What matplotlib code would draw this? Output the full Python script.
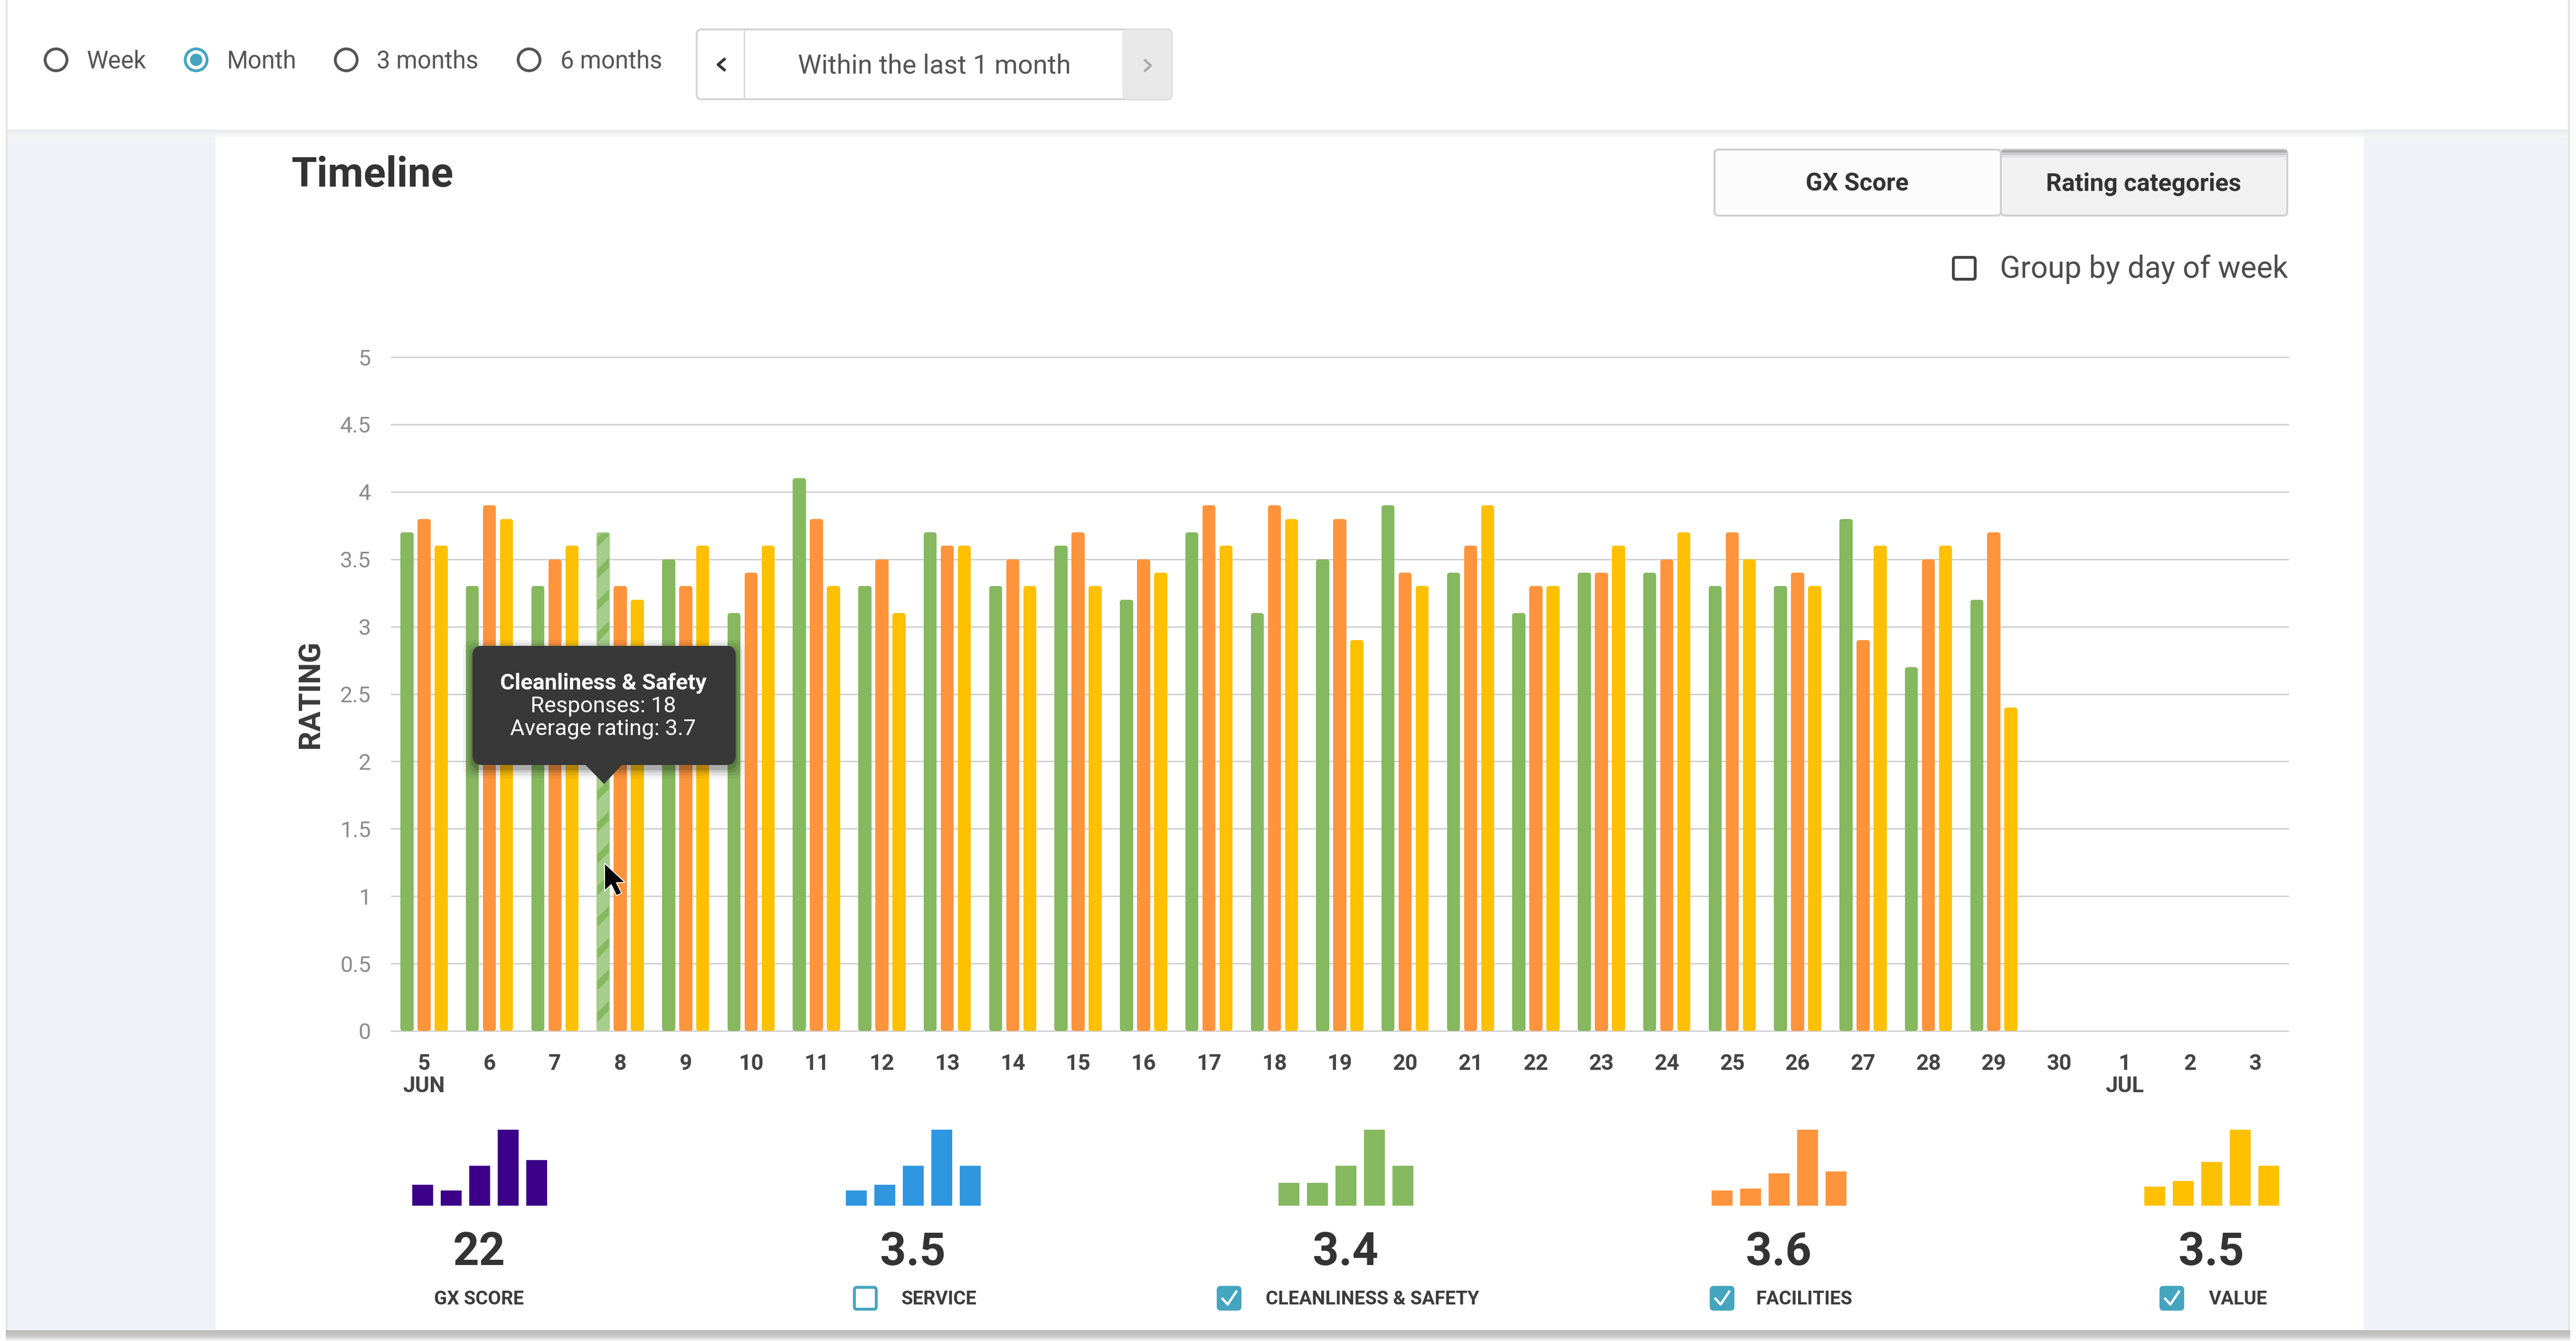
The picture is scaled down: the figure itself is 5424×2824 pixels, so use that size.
import numpy as np
import matplotlib
matplotlib.use('Agg')
import matplotlib.pyplot as plt
from matplotlib.patches import Rectangle, FancyBboxPatch, Circle, Polygon

plt.rcParams['font.family'] = ['Roboto', 'DejaVu Sans']

W, H = 5424, 2824
DPI = 200
PT = 72 / DPI   # one picture pixel in points

# chart data
days = ['5\nJUN', '6', '7', '8', '9', '10', '11', '12', '13', '14', '15', '16', '17', '18', '19',
        '20', '21', '22', '23', '24', '25', '26', '27', '28', '29', '30', '1\nJUL', '2', '3']
cleanliness = [3.7, 3.3, 3.3, 3.7, 3.5, 3.1, 4.1, 3.3, 3.7, 3.3, 3.6, 3.2, 3.7, 3.1, 3.5,
               3.9, 3.4, 3.1, 3.4, 3.4, 3.3, 3.3, 3.8, 2.7, 3.2]
facilities = [3.8, 3.9, 3.5, 3.3, 3.3, 3.4, 3.8, 3.5, 3.6, 3.5, 3.7, 3.5, 3.9, 3.9, 3.8,
              3.4, 3.6, 3.3, 3.4, 3.5, 3.7, 3.4, 2.9, 3.5, 3.7]
value = [3.6, 3.8, 3.6, 3.2, 3.6, 3.6, 3.3, 3.1, 3.6, 3.3, 3.3, 3.4, 3.6, 3.8, 2.9,
         3.3, 3.9, 3.3, 3.6, 3.7, 3.5, 3.3, 3.6, 3.6, 2.4]
y_ticks = [0, 0.5, 1, 1.5, 2, 2.5, 3, 3.5, 4, 4.5, 5]
y_labels = ['0', '0.5', '1', '1.5', '2', '2.5', '3', '3.5', '4', '4.5', '5']

# small summary histograms
hist_gx = [11, 8, 21, 40, 24]
hist_service = [8, 11, 21, 40, 21]
hist_clean = [12, 12, 21, 40, 21]
hist_fac = [8, 9, 17, 40, 18]
hist_value = [10, 13, 23, 40, 21]
scores = ['22', '3.5', '3.4', '3.6', '3.5']

GREEN = '#85b85f'
ORANGE = '#ff943d'
YELLOW = '#ffc000'
BLUE = '#2f96e0'
PURPLE = '#3c0088'
TEAL = '#45a5bf'
DARK = '#383838'
SIDE = '#f0f2f7'


def axes_px(x0, y0, x1, y1, **kw):
    # axes from picture pixels, y measured from the top
    return fig.add_axes([x0 / W, 1 - y1 / H, (x1 - x0) / W, (y1 - y0) / H], **kw)


def fs(px):
    return px * PT


fig = plt.figure(figsize=(W / DPI, H / DPI), dpi=DPI, facecolor='white')

# page behind the chart
back = axes_px(0, 0, W, H, zorder=0)
back.set_xlim(0, W)
back.set_ylim(H, 0)
back.axis('off')
back.add_patch(Rectangle((14, 0), 5394, 2802, fc='white', ec='none'))
back.add_patch(Rectangle((16, 273), 438, 2530, fc=SIDE, ec='none'))
back.add_patch(Rectangle((4977, 273), 430, 2530, fc=SIDE, ec='none'))
back.add_patch(Rectangle((12, 0), 4, 2802, fc='#e4e4e4', ec='none'))
back.add_patch(Rectangle((5407, 0), 4, 2802, fc='#e4e4e4', ec='none'))
for i, c in enumerate(['#e6e7ea', '#ebecef', '#f1f2f4', '#f7f7f9']):
    back.add_patch(Rectangle((16, 273 + i * 4), 5391, 4, fc=c, ec='none', alpha=0.8))
for i, c in enumerate(['#bdbdbd', '#c0c0c0', '#c4c4c4', '#cdcdcd', '#e2e2e2', '#f2f2f2']):
    back.add_patch(Rectangle((12, 2801 + i * 4), 5400, 4, fc=c, ec='none'))

# main chart
ax = axes_px(824, 752, 4818, 2171, zorder=1)
ax.patch.set_alpha(0)
x = np.arange(len(days))
pad_x = 10 / 137.8
pad_y = 5 / 283.8
bar_w = 27.5 / 137.8 - pad_x
step = 36 / 137.8
for off, vals, col in [(-step, cleanliness, GREEN), (0, facilities, ORANGE), (step, value, YELLOW)]:
    n = len(vals)
    ax.bar(x[:n] + off, np.array(vals) - 2 * pad_y, bottom=pad_y, width=bar_w, color=col, edgecolor=col,
           linewidth=10 * PT, joinstyle='round', zorder=3)

# hovered bar on the 8th
plt.rcParams['hatch.linewidth'] = 14 * PT
hov = 3
ax.bar(x[hov] - step, cleanliness[hov] - 2 * pad_y, bottom=pad_y, width=bar_w, color='#a6cd8c',
       edgecolor='#a6cd8c', linewidth=10 * PT, joinstyle='round', zorder=4)
ax.bar(x[hov] - step, cleanliness[hov] - pad_y, bottom=pad_y / 2, width=bar_w + pad_x * 0.6, facecolor='none',
       edgecolor=GREEN, linewidth=0, hatch='/', zorder=5)

ax.set_xlim(-0.5, len(days) - 0.5)
ax.set_ylim(0, 5)
ax.set_yticks(y_ticks)
ax.set_yticklabels(y_labels, fontsize=fs(47), color='#8c8c8c')
ax.set_xticks(x)
ax.set_xticklabels(days, fontsize=fs(46), color='#444444', fontweight='bold', linespacing=1.08)
ax.tick_params(axis='y', length=0, pad=43 * PT)
ax.tick_params(axis='x', length=0, pad=47 * PT)
ax.grid(axis='y', color='#d0d0d0', linewidth=3 * PT)
ax.set_axisbelow(True)
for line in ax.get_ygridlines():
    line.set_clip_on(False)
for s in ax.spines.values():
    s.set_visible(False)
ax.set_ylabel('RATING', fontsize=fs(63), fontweight='bold', color='#3a3a3a')
ax.yaxis.set_label_coords((684 - 824) / (4818 - 824), (2171 - 1462) / (2171 - 752))

# summary histograms
hists = [(868, hist_gx, PURPLE), (1781, hist_service, BLUE), (2692, hist_clean, GREEN),
         (3604, hist_fac, ORANGE), (4515, hist_value, YELLOW)]
centers = [1009, 1922, 2833, 3745, 4656]
for (left, vals, col), cx, sc in zip(hists, centers, scores):
    mini = axes_px(left, 2379, left + 284, 2539, zorder=1)
    mini.bar(range(5), vals, width=0.733, color=col)
    mini.set_xlim(-0.367, 4.367)
    mini.set_ylim(0, 40)
    mini.axis('off')

# everything from the interface that sits on top
ui = axes_px(0, 0, W, H, zorder=2)
ui.set_xlim(0, W)
ui.set_ylim(H, 0)
ui.axis('off')
ui.patch.set_alpha(0)


def label(x, y, s, size, color='#555555', weight='normal', ha='left', **kw):
    ui.text(x, y, s, fontsize=fs(size), color=color, fontweight=weight, ha=ha, va='center', **kw)


for rx, tx, s, on in [(118, 182, 'Week', False), (413, 478, 'Month', True),
                      (729, 793, '3 months', False), (1114, 1180, '6 months', False)]:
    ec = TEAL if on else '#555555'
    ui.add_patch(Circle((rx, 126), 23, fc='white', ec=ec, lw=6 * PT))
    if on:
        ui.add_patch(Circle((rx, 126), 13, fc=TEAL, ec='none'))
    label(tx, 129, s, 51)

# date stepper
ui.add_patch(FancyBboxPatch((1467, 62), 1000, 147, boxstyle='round,pad=0,rounding_size=10', fc='white',
                            ec='#d4d4d4', lw=4 * PT))
ui.add_patch(FancyBboxPatch((2363, 62), 104, 147, boxstyle='round,pad=0,rounding_size=10', fc='#e8e8e8', ec='none'))
ui.plot([1567, 1567], [62, 209], color='#d8d8d8', lw=3 * PT)
label(1967, 139, 'Within the last 1 month', 56, ha='center')
ui.plot([1525, 1512, 1525], [125, 136, 147], color='#333333', lw=6 * PT)
ui.plot([2411, 2423, 2411], [127, 138, 149], color='#a8a8a8', lw=5 * PT)

label(613, 369, 'Timeline', 87, color='#333333', weight='bold')

# toggle buttons
ui.add_patch(FancyBboxPatch((3610, 315), 603, 139, boxstyle='round,pad=0,rounding_size=8', fc='#fcfcfc',
                            ec='#cfcfcf', lw=4 * PT))
ui.add_patch(FancyBboxPatch((4213, 315), 603, 139, boxstyle='round,pad=0,rounding_size=8', fc='#f1f1f1',
                            ec='#cfcfcf', lw=4 * PT))
for i, c in enumerate(['#acacae', '#c8c8ca', '#e0e0e2']):
    ui.add_patch(Rectangle((4215, 316 + i * 5), 600, 5, fc=c, ec='none'))
label(3910, 388, 'GX Score', 52, color='#333333', weight='bold', ha='center')
label(4513, 388, 'Rating categories', 52, color='#333333', weight='bold', ha='center')

# group checkbox
ui.add_patch(FancyBboxPatch((4113, 542), 46, 46, boxstyle='round,pad=0,rounding_size=5', fc='white',
                            ec='#444444', lw=6 * PT))
label(4211, 567, 'Group by day of week', 63.5, color='#4c4c4c')

# tooltip with a soft shadow
for grow, a in [(20, 0.05), (14, 0.07), (8, 0.1), (3, 0.14)]:
    ui.add_patch(FancyBboxPatch((995 - grow, 1368 - grow), 554 + 2 * grow, 251 + 2 * grow,
                                boxstyle='round,pad=0,rounding_size=22', fc='black', ec='none', alpha=a))
ui.add_patch(FancyBboxPatch((995, 1360), 554, 251, boxstyle='round,pad=0,rounding_size=20', fc=DARK, ec='none'))
ui.add_patch(Polygon([(1231, 1609), (1311, 1609), (1272, 1651)], fc=DARK, ec='none'))
label(1270, 1439, 'Cleanliness & Safety', 47, color='white', weight='bold', ha='center')
label(1270, 1487, 'Responses: 18', 47, color='white', ha='center')
label(1270, 1535, 'Average rating: 3.7', 47, color='white', ha='center')

# mouse pointer
ui.add_patch(Polygon([(1273, 1818), (1273, 1876), (1287, 1863), (1298, 1886), (1309, 1881), (1298, 1859), (1316, 1858)],
                     fc='black', ec='white', lw=2 * PT))

# score numbers and their labels
for cx, sc in zip(centers, scores):
    label(cx, 2638, sc, 96, color='#333333', weight='bold', ha='center')
label(1009, 2736, 'GX SCORE', 40, color='#3c3c3c', weight='bold', ha='center')

checks = [(1796, 1898, 'SERVICE', False), (2562, 2665, 'CLEANLINESS & SAFETY', True),
          (3600, 3698, 'FACILITIES', True), (4547, 4651, 'VALUE', True)]
for bx, tx, s, on in checks:
    ui.add_patch(FancyBboxPatch((bx + 3, 2711), 46, 46, boxstyle='round,pad=0,rounding_size=5',
                                fc=TEAL if on else 'white', ec=TEAL, lw=6 * PT))
    if on:
        ui.plot([bx + 12, bx + 23, bx + 41], [2735, 2747, 2720], color='white', lw=5 * PT)
    label(tx, 2736, s, 40, color='#3c3c3c', weight='bold')

fig.savefig('out.png', dpi=DPI)
